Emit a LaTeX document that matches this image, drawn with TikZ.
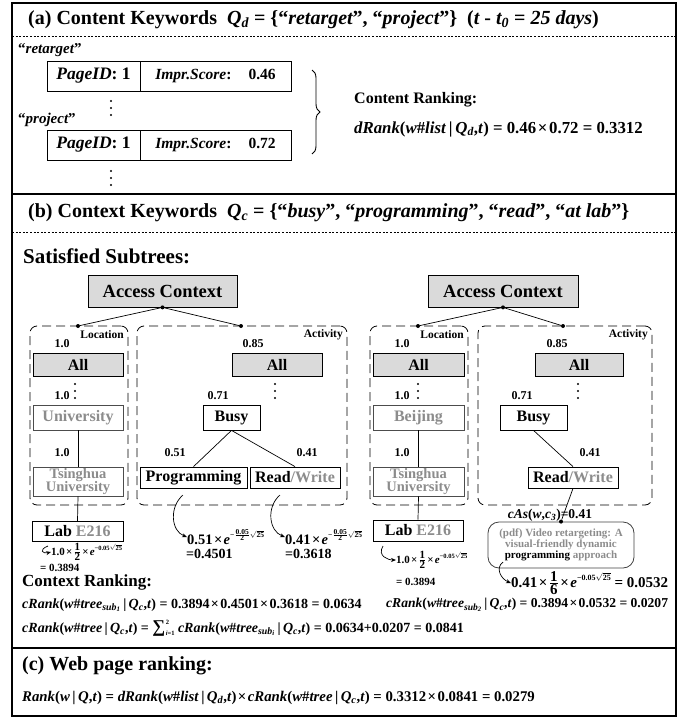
\documentclass[tikz,border=0pt]{standalone}
\usepackage{amsmath}
\usepackage{fontspec}
\setmainfont{Liberation Serif}
\usetikzlibrary{decorations.pathreplacing,arrows.meta}
\definecolor{txtgray}{RGB}{140,140,140}
\definecolor{boxfill}{RGB}{218,218,218}
\newcommand{\U}[1]{\textup{#1}}
\newcommand{\mb}[1]{\mbox{\bfseries\upshape #1}}
\newcommand{\fsz}[1]{\fontsize{#1}{#1}\selectfont}
\newcommand{\X}{\kern0.1em×\kern0.1em}
\newcommand{\expA}{\raisebox{1.1ex}{\fsz{7.5}\U{−}$\frac{\mb{0.05}}{\mb{2}}\sqrt{\mb{25}}$}}
\newcommand{\expB}[1]{\raisebox{1.0ex}{\fsz{#1}\U{−0.05}$\sqrt{\mb{25}}$}}
\tikzset{
  hdr/.style={anchor=west, font=\fsz{20}\bfseries, inner sep=0},
  frm/.style={anchor=west, font=\fsz{14}\bfseries\itshape, inner sep=0},
  cell/.style={draw, line width=0.8, inner sep=0, minimum height=30},
  tbox/.style={draw, line width=0.8, inner sep=0, font=\fsz{16}\bfseries},
  gbox/.style={tbox, fill=boxfill},
  hbox/.style={tbox, draw=black!70, text=txtgray},
  wlab/.style={font=\fsz{12}\bfseries, inner sep=0},
  clab/.style={font=\fsz{11.5}\bfseries, inner sep=0, anchor=east},
  grp/.style={draw, dash pattern=on 9pt off 5pt, rounded corners=7, line width=0.8, inner sep=0},
  dot/.style={circle, fill, inner sep=0, minimum size=4},
  conn/.style={line width=0.7},
  carr/.style={-{Stealth[length=5pt,width=4pt]}, line width=0.7},
  sepline/.style={line width=1.3},
  dsep/.style={line width=0.7, dash pattern=on 2pt off 1.6pt},
  plain/.style={anchor=west, inner sep=0},
}
\newcommand{\vdts}[2]{\foreach \k in {0,7,14}{\fill (#1,#2+\k) circle (1.2);}}
\begin{document}
\begin{tikzpicture}[x=1pt,y=-1pt]
\useasboundingbox (0,0) rectangle (686,717);
% frame and separators
\draw[sepline] (12,3) rectangle (676,716);
\draw[sepline] (12,194) -- (676,194);
\draw[sepline] (12,648) -- (676,648);
\draw[dsep] (12,36) -- (676,36);
\draw[dsep] (12,232) -- (676,232);

% ---------- (a)
\node[hdr] (ha) at (28,20) {(a) Content Keywords\ \ {\itshape Q\textsubscript{d}} = \{“{\itshape retarget}”, “{\itshape project}”\}\ \ ({\itshape t} - {\itshape t\textsubscript{0}} = {\itshape 25 days})};
\node[plain, font=\fsz{15}\bfseries] (kw1) at (18,50) {“{\itshape retarget}”};
\node[cell, minimum width=93, font=\fsz{17.5}\bfseries\itshape] (pa1) at (93.5,76) {PageID\U{: 1}};
\node[cell, minimum width=151, font=\fsz{15.5}\bfseries] (pb1) at (215.5,76) {\textit{Impr.Score}:\hspace{1.1em}0.46};
\vdts{111}{101}
\node[plain, font=\fsz{15}\bfseries] (kw2) at (18,120) {“{\itshape project}”};
\node[cell, minimum width=93, font=\fsz{17.5}\bfseries\itshape] (pa2) at (93.5,145) {PageID\U{: 1}};
\node[cell, minimum width=151, font=\fsz{15.5}\bfseries] (pb2) at (215.5,145) {\textit{Impr.Score}:\hspace{1.1em}0.72};
\vdts{111}{171}
\draw[line width=0.9, decorate, decoration={brace, amplitude=8pt}] (312,70) -- (312,154);
\node[plain, font=\fsz{16}\bfseries] (cr) at (354,100) {Content Ranking:};
\node[frm, font=\fsz{16.8}\bfseries\itshape] (dr) at (354,129) {dRank\U{(}w\U{\#}list\U{\,|\,}Q\textsubscript{d}\U{,}t\U{) = 0.46\X0.72 = 0.3312}};

% ---------- (b)
\node[hdr] (hb) at (28,213) {(b) Context Keywords\ \ {\itshape Q\textsubscript{c}} = \{“{\itshape busy}”, “{\itshape programming}”, “{\itshape read}”, “{\itshape at lab}”\}};
\node[plain, font=\fsz{21}\bfseries] (ss) at (23,256) {Satisfied Subtrees:};

% left tree
\node[gbox, minimum width=149, minimum height=32, font=\fsz{18.5}\bfseries] (ac1) at (162.5,291) {Access Context};
\node[dot] (d10) at (ac1.south) {};
\node[grp, minimum width=98, minimum height=179] (loc1) at (79,415.5) {};
\node[grp, minimum width=210, minimum height=179] (act1) at (242,415.5) {};
\node[dot] (d11) at (78,326) {};
\node[dot] (d12) at (241,326) {};
\draw[conn] (d10) -- (d11);
\draw[conn] (d10) -- (d12);
\node[clab] (lloc1) at (124,335) {Location};
\node[clab] (lact1) at (343,335) {Activity};
\node[wlab] (w1) at (62,344) {1.0};
\node[wlab] (w2) at (253,344) {0.85};
\node[gbox, minimum width=90, minimum height=23] (all1) at (78,364.5) {All};
\vdts{75}{384}
\node[wlab] (w3) at (62,396) {1.0};
\node[hbox, minimum width=90, minimum height=25] (uni1) at (78,417.5) {University};
\node[wlab] (w4) at (62,453) {1.0};
\node[hbox, minimum width=90, minimum height=29, align=center, font=\fsz{14.5}\bfseries] (ts1) at (78,481.5) {Tsinghua\\[-2pt]University};
\node[tbox, minimum width=91, minimum height=20] (lab1) at (77.5,531.5) {Lab {\color{txtgray}E216}};
\draw[conn] (uni1.south) -- (ts1.north);
\draw[conn] (ts1.south) -- (lab1.north);

\node[gbox, minimum width=90, minimum height=23] (all2) at (277,364.5) {All};
\vdts{275}{384}
\node[wlab] (w5) at (218,396) {0.71};
\node[tbox, minimum width=57, minimum height=25] (busy1) at (231.5,417.5) {Busy};
\node[tbox, minimum width=107, minimum height=21] (prog1) at (193.5,477.5) {Programming};
\node[tbox, minimum width=90, minimum height=21] (rw1) at (295,477.5) {Read{\color{txtgray}/Write}};
\draw[conn] (busy1.south) -- (prog1.north);
\draw[conn] (busy1.south) -- (rw1.north);
\node[wlab] (w6) at (175,453) {0.51};
\node[wlab] (w7) at (307,453) {0.41};

% left formulas
\coordinate (s1) at (183,495);
\node[plain, font=\fsz{14.5}\bfseries] (f1) at (187,537) {0.51\X\textit{e}\expA};
\node[plain, font=\fsz{14}\bfseries] (g1) at (186,554) {=0.4501};
\draw[carr] (s1) .. controls +(-14,12) and +(-16,-6) .. (f1.west);
\coordinate (s2) at (280,495);
\node[plain, font=\fsz{14.5}\bfseries] (f2) at (285,537) {0.41\X\textit{e}\expA};
\node[plain, font=\fsz{14}\bfseries] (g2) at (285,554) {=0.3618};
\draw[carr] (s2) .. controls +(-14,12) and +(-16,-6) .. (f2.west);
\coordinate (s3) at (48,546);
\node[plain, font=\fsz{11}\bfseries] (f3) at (51,552) {1.0\X$\frac{\mb{1}}{\mb{2}}$\X\textit{e}\expB{6.5}};
\node[plain, font=\fsz{11}\bfseries] (g3) at (40,567.5) {= 0.3894};
\draw[carr] (s3) .. controls +(-10,4) and +(-8,2) .. (f3.west);

% right tree
\node[gbox, minimum width=150, minimum height=32, font=\fsz{18.5}\bfseries] (ac2) at (503,291) {Access Context};
\node[dot] (d20) at (ac2.south) {};
\node[grp, minimum width=98, minimum height=179] (loc2) at (419,415.5) {};
\node[grp, minimum width=174, minimum height=179] (act2) at (565,415.5) {};
\node[dot] (d21) at (418,326) {};
\node[dot] (d22) at (563,326) {};
\draw[conn] (d20) -- (d21);
\draw[conn] (d20) -- (d22);
\node[clab] (lloc2) at (464,335) {Location};
\node[clab] (lact2) at (648,335) {Activity};
\node[wlab] (w8) at (402,344) {1.0};
\node[wlab] (w9) at (557,344) {0.85};
\node[gbox, minimum width=91, minimum height=23] (all3) at (418.5,364.5) {All};
\vdts{418}{384}
\node[wlab] (w10) at (402,396) {1.0};
\node[hbox, minimum width=91, minimum height=25] (bj) at (418.5,417.5) {Beijing};
\node[wlab] (w11) at (402,453) {1.0};
\node[hbox, minimum width=91, minimum height=29, align=center, font=\fsz{14.5}\bfseries] (ts2) at (418.5,481.5) {Tsinghua\\[-2pt]University};
\node[tbox, minimum width=90, minimum height=21] (lab2) at (418,530.5) {Lab {\color{txtgray}E216}};
\draw[conn] (bj.south) -- (ts2.north);
\draw[conn] (ts2.south) -- (lab2.north);

\node[gbox, minimum width=88, minimum height=23] (all4) at (579,364.5) {All};
\vdts{578}{384}
\node[wlab] (w12) at (522,396) {0.71};
\node[tbox, minimum width=67, minimum height=25] (busy2) at (533.5,417.5) {Busy};
\node[tbox, minimum width=90, minimum height=21] (rw2) at (573,477.5) {Read{\color{txtgray}/Write}};
\draw[conn] (busy2.south) -- (rw2.north);
\node[wlab] (w13) at (590,453) {0.41};

\node[draw=black!75, line width=0.8, rounded corners=11, minimum width=146, minimum height=46, inner sep=0, align=center, text=txtgray, font=\fsz{11}\bfseries] (doc) at (561,545) {(pdf) Video retargeting: A\\visual-friendly dynamic\\{\color{black}programming} approach};
\node[dot] (d23) at (doc.north) {};
\draw[conn] (rw2.south) -- (d23);
\node[frm, anchor=center, font=\fsz{13.5}\bfseries\itshape] (cas) at (550,515) {cAs\U{(}w\U{,}c\textsubscript{3}\U{)=0.41}};

\coordinate (s4) at (503,562);
\node[plain, font=\fsz{15}\bfseries] (f4) at (511,583) {0.41\X$\frac{\mb{1}}{\mb{6}}$\X\textit{e}\expB{8}\ = 0.0532};
\draw[carr] (s4) .. controls +(-8,6) and +(-10,-4) .. (f4.west);
\coordinate (s5) at (383,546);
\node[plain, font=\fsz{11}\bfseries] (f5) at (396,560) {1.0\X$\frac{\mb{1}}{\mb{2}}$\X\textit{e}\expB{6.5}};
\node[plain, font=\fsz{11}\bfseries] (g5) at (396,582) {= 0.3894};
\draw[carr] (s5) .. controls +(-6,10) and +(-8,0) .. (f5.west);

% context ranking
\node[plain, font=\fsz{17}\bfseries] (ctr) at (22,582) {Context Ranking:};
\node[frm] (r1) at (22,605) {cRank\U{(}w\U{\#}tree\textsubscript{sub\textsubscript{1}}\U{\,|\,}Q\textsubscript{c}\U{,}t\U{) = 0.3894\X0.4501\X0.3618 = 0.0634}};
\node[frm, font=\fsz{13.6}\bfseries\itshape] (r2) at (386,605) {cRank\U{(}w\U{\#}tree\textsubscript{sub\textsubscript{2}}\U{\,|\,}Q\textsubscript{c}\U{,}t\U{) = 0.3894\X0.0532 = 0.0207}};
\node[frm] (r3) at (22,628) {cRank\U{(}w\U{\#}tree\U{\,|\,}Q\textsubscript{c}\U{,}t\U{) = }\U{\fsz{18}∑}\kern0.5pt\rlap{\raisebox{1.2ex}{\fsz{6.5}\U{2}}}\raisebox{-0.6ex}{\fsz{6.5}i\U{=1}}\ cRank\U{(}w\U{\#}tree\textsubscript{sub\textsubscript{i}}\U{\,|\,}Q\textsubscript{c}\U{,}t\U{) = 0.0634+0.0207 = 0.0841}};

% ---------- (c)
\node[hdr] (hc) at (22,666) {(c) Web page ranking:};
\node[frm, font=\fsz{14.8}\bfseries\itshape] (rk) at (22,698) {Rank\U{(}w\U{\,|\,}Q\U{,}t\U{) = }dRank\U{(}w\U{\#}list\U{\,|\,}Q\textsubscript{d}\U{,}t\U{)\X}cRank\U{(}w\U{\#}tree\U{\,|\,}Q\textsubscript{c}\U{,}t\U{) = 0.3312\X0.0841 = 0.0279}};
\end{tikzpicture}
\end{document}
